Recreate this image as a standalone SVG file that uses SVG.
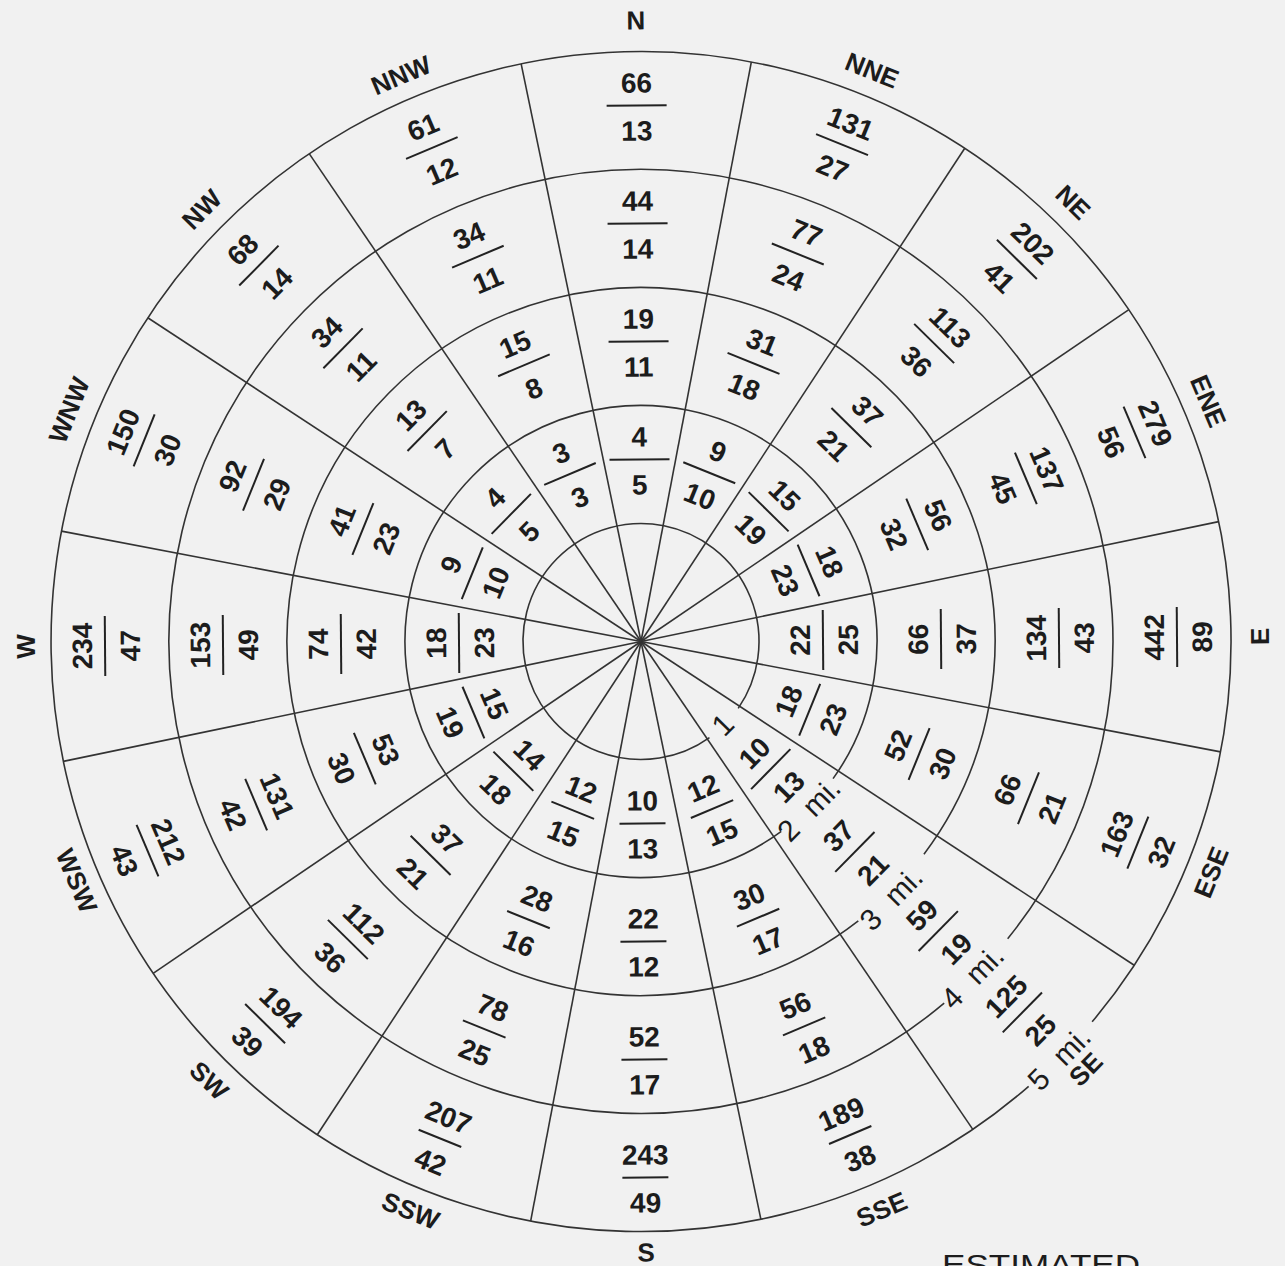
<svg xmlns="http://www.w3.org/2000/svg" width="1285" height="1266" viewBox="0 0 1285 1266">
<style>
.bg{fill:#f1f1f1}
.grid line,.grid path{stroke:#333;stroke-width:1.6;fill:none}
.n text{font-family:"Liberation Sans",Arial,sans-serif;font-weight:bold;font-size:28px;text-anchor:middle;fill:#1c1c1c}
.n line{stroke:#222;stroke-width:2}
.c{font-family:"Liberation Sans",Arial,sans-serif;font-weight:bold;font-size:26px;text-anchor:middle;fill:#1c1c1c}
.d{font-family:"Liberation Sans",Arial,sans-serif;font-size:30px;text-anchor:middle;fill:#1c1c1c;word-spacing:10px}
.e{font-family:"Liberation Sans",Arial,sans-serif;font-size:30px;fill:#1c1c1c}
</style>
<rect class="bg" width="1285" height="1266"/>
<g transform="translate(641 641.5) rotate(-0.47)">
<g id="connectors" class="grid">
<path d="M67.68 96.66A118 118 0 1 1 96.66 67.68"/>
<path d="M138.72 190.92A236 236 0 1 1 190.92 138.72"/>
<path d="M215 281.2A354 354 0 1 1 281.2 215"/>
<path d="M300.2 364.2A472 472 0 1 1 364.2 300.2"/>
<path d="M384 448A590 590 0 1 1 448 384"/>
<line y2="-590" transform="rotate(11.25)"/>
<line y2="-590" transform="rotate(33.75)"/>
<line y2="-590" transform="rotate(56.25)"/>
<line y2="-590" transform="rotate(78.75)"/>
<line y2="-590" transform="rotate(101.25)"/>
<line y2="-590" transform="rotate(123.75)"/>
<line y2="-590" transform="rotate(146.25)"/>
<line y2="-590" transform="rotate(168.75)"/>
<line y2="-590" transform="rotate(191.25)"/>
<line y2="-590" transform="rotate(213.75)"/>
<line y2="-590" transform="rotate(236.25)"/>
<line y2="-590" transform="rotate(258.75)"/>
<line y2="-590" transform="rotate(281.25)"/>
<line y2="-590" transform="rotate(303.75)"/>
<line y2="-590" transform="rotate(326.25)"/>
<line y2="-590" transform="rotate(348.75)"/>
</g>

<g id="sector-N" transform="rotate(0)">
<text class="c" y="-612">N</text>
<g id="N-2" class="n" transform="translate(0 -182)"><text y="-13">4</text><line x1="-30" x2="30"/><text y="35">5</text></g>
<g id="N-3" class="n" transform="translate(0 -300)"><text y="-13">19</text><line x1="-30" x2="30"/><text y="35">11</text></g>
<g id="N-4" class="n" transform="translate(0 -418)"><text y="-13">44</text><line x1="-30" x2="30"/><text y="35">14</text></g>
<g id="N-5" class="n" transform="translate(0 -536)"><text y="-13">66</text><line x1="-30" x2="30"/><text y="35">13</text></g>
</g>

<g id="sector-NNE" transform="rotate(22.5)">
<text class="c" y="-607">NNE</text>
<g id="NNE-2" class="n" transform="translate(0 -182)"><text y="-13">9</text><line x1="-28" x2="28"/><text y="35">10</text></g>
<g id="NNE-3" class="n" transform="translate(0 -300)"><text y="-13">31</text><line x1="-28" x2="28"/><text y="35">18</text></g>
<g id="NNE-4" class="n" transform="translate(0 -418)"><text y="-13">77</text><line x1="-28" x2="28"/><text y="35">24</text></g>
<g id="NNE-5" class="n" transform="translate(0 -536)"><text y="-13">131</text><line x1="-28" x2="28"/><text y="35">27</text></g>
</g>

<g id="sector-NE" transform="rotate(45)">
<text class="c" y="-607">NE</text>
<g id="NE-2" class="n" transform="translate(0 -182)"><text y="-13">15</text><line x1="-28" x2="28"/><text y="35">19</text></g>
<g id="NE-3" class="n" transform="translate(0 -300)"><text y="-13">37</text><line x1="-28" x2="28"/><text y="35">21</text></g>
<g id="NE-4" class="n" transform="translate(0 -418)"><text y="-13">113</text><line x1="-28" x2="28"/><text y="35">36</text></g>
<g id="NE-5" class="n" transform="translate(0 -536)"><text y="-13">202</text><line x1="-28" x2="28"/><text y="35">41</text></g>
</g>

<g id="sector-ENE" transform="rotate(67.5)">
<text class="c" y="-607">ENE</text>
<g id="ENE-2" class="n" transform="translate(0 -182)"><text y="-13">18</text><line x1="-28" x2="28"/><text y="35">23</text></g>
<g id="ENE-3" class="n" transform="translate(0 -300)"><text y="-13">56</text><line x1="-28" x2="28"/><text y="35">32</text></g>
<g id="ENE-4" class="n" transform="translate(0 -418)"><text y="-13">137</text><line x1="-28" x2="28"/><text y="35">45</text></g>
<g id="ENE-5" class="n" transform="translate(0 -536)"><text y="-13">279</text><line x1="-28" x2="28"/><text y="35">56</text></g>
</g>

<g id="sector-E" transform="rotate(-90)">
<text class="c" y="628">E</text>
<g id="E-2" class="n" transform="translate(0 182)"><text y="-13">22</text><line x1="-30" x2="30"/><text y="35">25</text></g>
<g id="E-3" class="n" transform="translate(0 300)"><text y="-13">66</text><line x1="-30" x2="30"/><text y="35">37</text></g>
<g id="E-4" class="n" transform="translate(0 418)"><text y="-13">134</text><line x1="-30" x2="30"/><text y="35">43</text></g>
<g id="E-5" class="n" transform="translate(0 536)"><text y="-13">442</text><line x1="-30" x2="30"/><text y="35">89</text></g>
</g>

<g id="sector-ESE" transform="rotate(-67.5)">
<text class="c" y="624">ESE</text>
<g id="ESE-2" class="n" transform="translate(0 182)"><text y="-13">18</text><line x1="-28" x2="28"/><text y="35">23</text></g>
<g id="ESE-3" class="n" transform="translate(0 300)"><text y="-13">52</text><line x1="-28" x2="28"/><text y="35">30</text></g>
<g id="ESE-4" class="n" transform="translate(0 418)"><text y="-13">66</text><line x1="-28" x2="28"/><text y="35">21</text></g>
<g id="ESE-5" class="n" transform="translate(0 536)"><text y="-13">163</text><line x1="-28" x2="28"/><text y="35">32</text></g>
</g>

<g id="sector-SE" transform="rotate(-45)">
<text class="c" x="7" y="626">SE</text>
<g id="SE-2" class="n" transform="translate(0 182)"><text y="-13">10</text><line x1="-28" x2="28"/><text y="35">13</text></g>
<g id="SE-3" class="n" transform="translate(0 300)"><text y="-13">37</text><line x1="-28" x2="28"/><text y="35">21</text></g>
<g id="SE-4" class="n" transform="translate(2 415)"><text y="-13">59</text><line x1="-28" x2="28"/><text y="35">19</text></g>
<g id="SE-5" class="n" transform="translate(3 532)"><text y="-13">125</text><line x1="-28" x2="28"/><text y="35">25</text></g>
<g id="distances">
<text class="d" x="-2" y="127">1</text>
<text class="d" x="-2" y="248">2 mi.</text>
<text class="d" x="-8" y="369">3 mi.</text>
<text class="d" x="-7" y="482">4 mi.</text>
<text class="d" x="-4" y="601">5 mi.</text>
</g>
</g>

<g id="sector-SSE" transform="rotate(-22.5)">
<text class="c" y="626">SSE</text>
<g id="SSE-2" class="n" transform="translate(0 182)"><text y="-13">12</text><line x1="-23" x2="23"/><text y="35">15</text></g>
<g id="SSE-3" class="n" transform="translate(0 300)"><text y="-13">30</text><line x1="-23" x2="23"/><text y="35">17</text></g>
<g id="SSE-4" class="n" transform="translate(0 418)"><text y="-13">56</text><line x1="-23" x2="23"/><text y="35">18</text></g>
<g id="SSE-5" class="n" transform="translate(0 536)"><text y="-13">189</text><line x1="-23" x2="23"/><text y="35">38</text></g>
</g>

<g id="sector-S" transform="rotate(0)">
<text class="c" y="620">S</text>
<g id="S-2" class="n" transform="translate(0 182)"><text y="-13">10</text><line x1="-23" x2="23"/><text y="35">13</text></g>
<g id="S-3" class="n" transform="translate(0 300)"><text y="-13">22</text><line x1="-23" x2="23"/><text y="35">12</text></g>
<g id="S-4" class="n" transform="translate(0 418)"><text y="-13">52</text><line x1="-23" x2="23"/><text y="35">17</text></g>
<g id="S-5" class="n" transform="translate(0 536)"><text y="-13">243</text><line x1="-23" x2="23"/><text y="35">49</text></g>
</g>

<g id="sector-SSW" transform="rotate(22.5)">
<text class="c" y="623">SSW</text>
<g id="SSW-2" class="n" transform="translate(0 182)"><text y="-13">12</text><line x1="-23" x2="23"/><text y="35">15</text></g>
<g id="SSW-3" class="n" transform="translate(0 300)"><text y="-13">28</text><line x1="-23" x2="23"/><text y="35">16</text></g>
<g id="SSW-4" class="n" transform="translate(0 418)"><text y="-13">78</text><line x1="-23" x2="23"/><text y="35">25</text></g>
<g id="SSW-5" class="n" transform="translate(0 536)"><text y="-13">207</text><line x1="-23" x2="23"/><text y="35">42</text></g>
</g>

<g id="sector-SW" transform="rotate(45)">
<text class="c" y="625">SW</text>
<g id="SW-2" class="n" transform="translate(0 182)"><text y="-13">14</text><line x1="-28" x2="28"/><text y="35">18</text></g>
<g id="SW-3" class="n" transform="translate(0 300)"><text y="-13">37</text><line x1="-28" x2="28"/><text y="35">21</text></g>
<g id="SW-4" class="n" transform="translate(0 418)"><text y="-13">112</text><line x1="-28" x2="28"/><text y="35">36</text></g>
<g id="SW-5" class="n" transform="translate(0 536)"><text y="-13">194</text><line x1="-28" x2="28"/><text y="35">39</text></g>
</g>

<g id="sector-WSW" transform="rotate(67.5)">
<text class="c" y="622">WSW</text>
<g id="WSW-2" class="n" transform="translate(0 182)"><text y="-13">15</text><line x1="-28" x2="28"/><text y="35">19</text></g>
<g id="WSW-3" class="n" transform="translate(0 300)"><text y="-13">53</text><line x1="-28" x2="28"/><text y="35">30</text></g>
<g id="WSW-4" class="n" transform="translate(0 418)"><text y="-13">131</text><line x1="-28" x2="28"/><text y="35">42</text></g>
<g id="WSW-5" class="n" transform="translate(0 536)"><text y="-13">212</text><line x1="-28" x2="28"/><text y="35">43</text></g>
</g>

<g id="sector-W" transform="rotate(-90)">
<text class="c" y="-606">W</text>
<g id="W-2" class="n" transform="translate(0 -182)"><text y="-13">18</text><line x1="-30" x2="30"/><text y="35">23</text></g>
<g id="W-3" class="n" transform="translate(0 -300)"><text y="-13">74</text><line x1="-30" x2="30"/><text y="35">42</text></g>
<g id="W-4" class="n" transform="translate(0 -418)"><text y="-13">153</text><line x1="-30" x2="30"/><text y="35">49</text></g>
<g id="W-5" class="n" transform="translate(0 -536)"><text y="-13">234</text><line x1="-30" x2="30"/><text y="35">47</text></g>
</g>

<g id="sector-WNW" transform="rotate(-67.5)">
<text class="c" y="-608">WNW</text>
<g id="WNW-2" class="n" transform="translate(0 -182)"><text y="-13">9</text><line x1="-28" x2="28"/><text y="35">10</text></g>
<g id="WNW-3" class="n" transform="translate(0 -300)"><text y="-13">41</text><line x1="-28" x2="28"/><text y="35">23</text></g>
<g id="WNW-4" class="n" transform="translate(0 -418)"><text y="-13">92</text><line x1="-28" x2="28"/><text y="35">29</text></g>
<g id="WNW-5" class="n" transform="translate(0 -536)"><text y="-13">150</text><line x1="-28" x2="28"/><text y="35">30</text></g>
</g>

<g id="sector-NW" transform="rotate(-45)">
<text class="c" y="-607">NW</text>
<g id="NW-2" class="n" transform="translate(0 -182)"><text y="-13">4</text><line x1="-28" x2="28"/><text y="35">5</text></g>
<g id="NW-3" class="n" transform="translate(0 -300)"><text y="-13">13</text><line x1="-28" x2="28"/><text y="35">7</text></g>
<g id="NW-4" class="n" transform="translate(0 -418)"><text y="-13">34</text><line x1="-28" x2="28"/><text y="35">11</text></g>
<g id="NW-5" class="n" transform="translate(0 -536)"><text y="-13">68</text><line x1="-28" x2="28"/><text y="35">14</text></g>
</g>

<g id="sector-NNW" transform="rotate(-22.5)">
<text class="c" y="-606">NNW</text>
<g id="NNW-2" class="n" transform="translate(0 -182)"><text y="-13">3</text><line x1="-28" x2="28"/><text y="35">3</text></g>
<g id="NNW-3" class="n" transform="translate(0 -300)"><text y="-13">15</text><line x1="-28" x2="28"/><text y="35">8</text></g>
<g id="NNW-4" class="n" transform="translate(0 -418)"><text y="-13">34</text><line x1="-28" x2="28"/><text y="35">11</text></g>
<g id="NNW-5" class="n" transform="translate(0 -536)"><text y="-13">61</text><line x1="-28" x2="28"/><text y="35">12</text></g>
</g>
</g>
<text class="e" x="942" y="1275" textLength="198" lengthAdjust="spacingAndGlyphs">ESTIMATED</text>
</svg>
